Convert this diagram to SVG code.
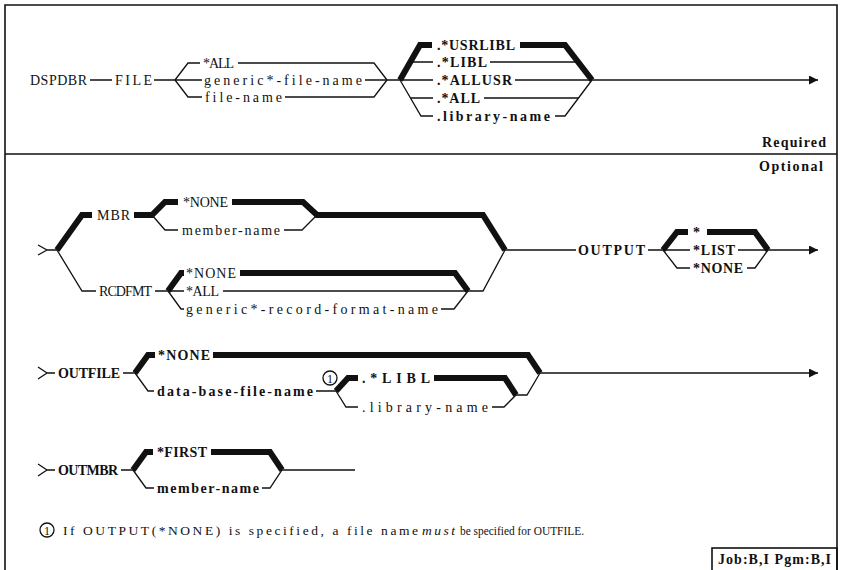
<svg xmlns="http://www.w3.org/2000/svg" width="841" height="570" viewBox="0 0 841 570">
<defs>
<style>
text{font-family:"Liberation Serif","DejaVu Serif",serif;font-size:14px;fill:#111}
.b{font-weight:bold}
.s{font-size:12px}
.fn{font-size:13.5px}
.fn2{font-size:12.5px}
.thin{fill:none;stroke:#111;stroke-width:1.3}
.thick{fill:none;stroke:#111;stroke-width:6;stroke-linejoin:miter;stroke-linecap:butt}
.frame{fill:none;stroke:#111;stroke-width:1.6}
</style>
<marker id="ah" viewBox="0 0 10 10" refX="10" refY="5" markerWidth="11" markerHeight="9" markerUnits="userSpaceOnUse" orient="auto"><path d="M0,0L10,5L0,10z" fill="#111"/></marker>
</defs>
<rect width="841" height="570" fill="#fff"/>
<g id="frame">
<path class="frame" d="M5,572V5H837V572"/>
<path class="frame" d="M5,154H837"/>
<text class="b" x="762" y="147" textLength="64" lengthAdjust="spacing">Required</text>
<text class="b" x="759" y="171" textLength="64" lengthAdjust="spacing">Optional</text>
</g>
<g id="connectors">
<!-- row 1 -->
<path class="thin" d="M90,80H112M154,80H175"/>
<path class="thin" d="M175,80L188,63H200M238,63H374L387,80"/>
<path class="thin" d="M175,80H202M365,80H400"/>
<path class="thin" d="M175,80L188,97H202M285,97H374L387,80"/>
<path class="thick" d="M400,80L420,45H432"/>
<path class="thick" d="M520,45H565L592,80"/>
<path class="thin" d="M410,62H433M490,62H578"/>
<path class="thin" d="M400,80H433M515,80H592"/>
<path class="thin" d="M400,80L421,116H433M484,98H578.5M410.5,98H433"/>
<path class="thin" d="M555,116H565L592,80"/>
<path class="thin" d="M592,80H818" marker-end="url(#ah)"/>
<!-- row 2 -->
<path class="thin" d="M38,245L47,250L38,255M47,250H57"/>
<path class="thick" d="M57,250L82,215H92M134,215H152L165,202H178"/>
<path class="thin" d="M152,215L165,230H178M284,230H302L317,215"/>
<path class="thick" d="M232,202H303L317,215H483L505,250"/>
<path class="thin" d="M57,250L82,291H96M155,291H168"/>
<path class="thick" d="M168,291L181,273H184M240,273H455L468,291"/>
<path class="thin" d="M168,291H184M223,291H483L505,250"/>
<path class="thin" d="M168,291L181,309H184M441,309H454L468,291"/>
<path class="thin" d="M505,250H576M648,250H663"/>
<path class="thick" d="M663,250L677,232H688M707,232H755L768,250"/>
<path class="thin" d="M663,250H690M738,250H768"/>
<path class="thin" d="M663,250L677,268H690M747,268H755L768,250"/>
<path class="thin" d="M768,250H818" marker-end="url(#ah)"/>
<!-- row 3 -->
<path class="thin" d="M38,367L47,373L38,379M47,373H55M123,373H135"/>
<path class="thick" d="M135,373L148,355H155M213,355H528L540,373"/>
<path class="thin" d="M135,373L148,391H154M316,391H336"/>
<path class="thick" d="M336,391L348,378H358M434,378H505L516,395"/>
<path class="thin" d="M336,391L346,407H358M492,407H504L516,395H527L540,373"/>
<path class="thin" d="M540,373H818" marker-end="url(#ah)"/>
<!-- row 4 -->
<path class="thin" d="M38,464L47,470L38,476M47,470H55M121,470H133"/>
<path class="thick" d="M133,470L146,452H153M211,452H270L282,470"/>
<path class="thin" d="M133,470L146,488H154M262,488H270L282,470H355"/>
</g>
<g id="n-dspdbr"><text x="30" y="85" textLength="57" lengthAdjust="spacing">DSPDBR</text></g>
<g id="n-file"><text x="115" y="85" textLength="37" lengthAdjust="spacing">FILE</text></g>
<g id="n-file-all"><text x="203" y="68" textLength="31" lengthAdjust="spacing">*ALL</text></g>
<g id="n-file-generic"><text x="204" y="85" textLength="158" lengthAdjust="spacing">generic*-file-name</text></g>
<g id="n-file-name"><text x="205" y="102" textLength="77" lengthAdjust="spacing">file-name</text></g>
<g id="n-usrlibl"><text class="b" x="437" y="50" textLength="78" lengthAdjust="spacing">.*USRLIBL</text></g>
<g id="n-libl"><text class="b" x="437" y="67" textLength="50" lengthAdjust="spacing">.*LIBL</text></g>
<g id="n-allusr"><text class="b" x="437" y="85" textLength="75" lengthAdjust="spacing">.*ALLUSR</text></g>
<g id="n-liball"><text class="b" x="437" y="103" textLength="43" lengthAdjust="spacing">.*ALL</text></g>
<g id="n-libname"><text class="b" x="437" y="121" textLength="113" lengthAdjust="spacing">.library-name</text></g>
<g id="n-mbr"><text x="97" y="220" textLength="33" lengthAdjust="spacing">MBR</text></g>
<g id="n-mbr-none"><text x="183" y="207" textLength="45" lengthAdjust="spacing">*NONE</text></g>
<g id="n-mbr-name"><text x="182" y="235" textLength="98" lengthAdjust="spacing">member-name</text></g>
<g id="n-rcdfmt"><text x="99" y="296" textLength="53" lengthAdjust="spacing">RCDFMT</text></g>
<g id="n-rcd-none"><text x="186" y="278" textLength="50" lengthAdjust="spacing">*NONE</text></g>
<g id="n-rcd-all"><text x="186" y="296" textLength="33" lengthAdjust="spacing">*ALL</text></g>
<g id="n-rcd-generic"><text x="186" y="314" textLength="252" lengthAdjust="spacing">generic*-record-format-name</text></g>
<g id="n-output"><text class="b" x="578" y="255" textLength="67" lengthAdjust="spacing">OUTPUT</text></g>
<g id="n-out-star"><text class="b" x="693" y="237">*</text></g>
<g id="n-out-list"><text class="b" x="693" y="255" textLength="42" lengthAdjust="spacing">*LIST</text></g>
<g id="n-out-none"><text class="b" x="693" y="273" textLength="50" lengthAdjust="spacing">*NONE</text></g>
<g id="n-outfile"><text class="b" x="58" y="378" textLength="62" lengthAdjust="spacing">OUTFILE</text></g>
<g id="n-of-none"><text class="b" x="158" y="360" textLength="52" lengthAdjust="spacing">*NONE</text></g>
<g id="n-of-dbfile"><text class="b" x="157" y="396" textLength="156" lengthAdjust="spacing">data-base-file-name</text></g>
<g id="n-note1"><circle cx="330" cy="378" r="7" class="thin"/><text class="s" x="330" y="382.5" text-anchor="middle">1</text></g>
<g id="n-of-libl"><text class="b" x="362" y="383" textLength="68" lengthAdjust="spacing">.*LIBL</text></g>
<g id="n-of-libname"><text x="362" y="412" textLength="126" lengthAdjust="spacing">.library-name</text></g>
<g id="n-outmbr"><text class="b" x="58" y="475" textLength="60" lengthAdjust="spacing">OUTMBR</text></g>
<g id="n-first"><text class="b" x="157" y="457" textLength="50" lengthAdjust="spacing">*FIRST</text></g>
<g id="n-om-name"><text class="b" x="157" y="493" textLength="102" lengthAdjust="spacing">member-name</text></g>
<g id="footnote">
<circle cx="47" cy="530" r="7" class="thin"/><text class="s" x="47" y="534.5" text-anchor="middle">1</text>
<text class="fn" x="63" y="535" textLength="355" lengthAdjust="spacing">If OUTPUT(*NONE) is specified, a file name</text>
<text class="fn" x="422" y="535" textLength="33" lengthAdjust="spacing" font-style="italic">must</text>
<text class="fn2" x="460" y="535" textLength="124" lengthAdjust="spacingAndGlyphs">be specified for OUTFILE.</text>
</g>
<g id="jobbox">
<rect x="712" y="548" width="125" height="26" class="frame"/>
<text class="b" x="718" y="564" font-size="13" textLength="113" lengthAdjust="spacing">Job:B,I Pgm:B,I</text>
</g>
</svg>
